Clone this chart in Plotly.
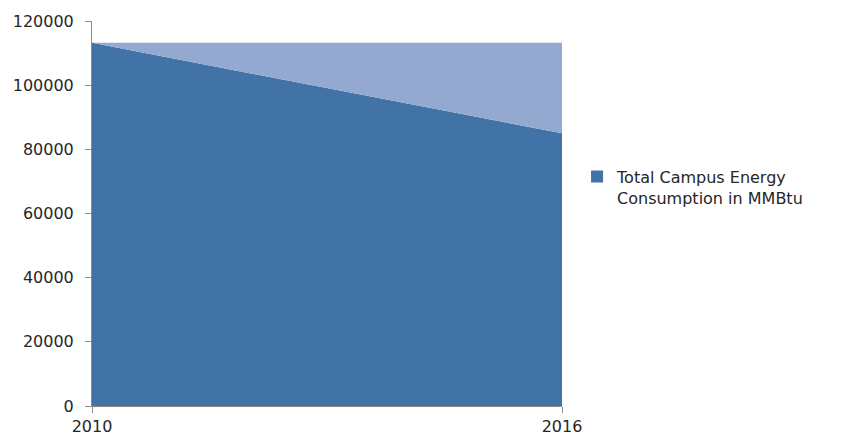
import plotly.graph_objects as go

years = [2010, 2016]
consumption = [113200, 85000]
baseline = [113200, 113200]
y_ticks = [0, 20000, 40000, 60000, 80000, 100000, 120000]
x_ticks = [2010, 2016]

font = "'DejaVu Sans', sans-serif"
dark = "#4173A7"
light = "#93A9CF"

fig = go.Figure()
fig.add_trace(go.Scatter(
    x=years, y=consumption, mode="lines", fill="tozeroy",
    line=dict(color=dark, width=0), fillcolor=dark,
    showlegend=False, hoverinfo="skip"))
fig.add_trace(go.Scatter(
    x=years, y=baseline, mode="lines", fill="tonexty",
    line=dict(color=light, width=0), fillcolor=light,
    showlegend=False, hoverinfo="skip"))
# legend entry (square swatch)
fig.add_trace(go.Bar(
    x=[None], y=[None], marker=dict(color=dark, line=dict(width=0)),
    name="Total Campus Energy<br>Consumption in MMBtu", showlegend=True))

fig.update_layout(
    width=844, height=439,
    margin=dict(l=84, r=290, t=13, b=41, autoexpand=False),
    plot_bgcolor="white", paper_bgcolor="white",
    font=dict(family=font, size=16, color="#262626"),
    legend=dict(x=1.032, y=0.64, xanchor="left", yanchor="top", valign="top",
                font=dict(size=16), itemwidth=30, tracegroupgap=0,
                bgcolor="rgba(0,0,0,0)"),
    showlegend=True,
)
fig.update_xaxes(range=[2010, 2016], tickvals=x_ticks, ticktext=[str(v) for v in x_ticks],
                 showgrid=False, zeroline=False, showline=True, linecolor="#8C8C8C", linewidth=1,
                 ticks="outside", ticklen=6, tickcolor="#8C8C8C", automargin=False)
fig.update_yaxes(range=[0, 120000], tickvals=y_ticks, ticktext=[str(v) for v in y_ticks],
                 showgrid=False, zeroline=False, showline=True, linecolor="#8C8C8C", linewidth=1,
                 ticks="outside", ticklen=6, tickcolor="#8C8C8C", automargin=False,
                 ticklabelstandoff=8)

fig.write_html("out.html")
